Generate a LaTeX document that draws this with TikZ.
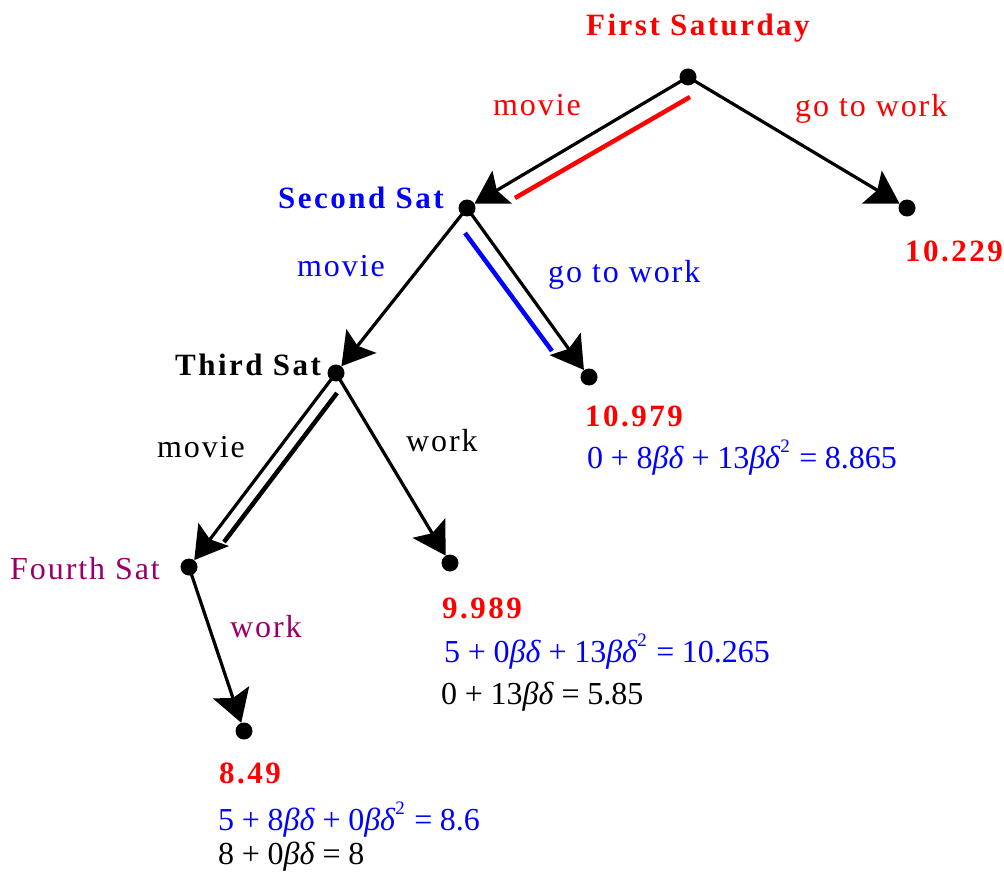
\documentclass[tikz,border=0pt]{standalone}
\usepackage{fontspec}
\setmainfont{Liberation Serif}
\newfontfamily\lblfont[LetterSpace=6]{Liberation Serif}
\newfontfamily\bldfont[LetterSpace=8]{Liberation Serif}
\usetikzlibrary{arrows.meta}
\definecolor{pur}{RGB}{153,0,102}
\newcommand{\opx}[1]{\hspace{0.24em}#1\hspace{0.24em}}
\newcommand{\bdx}{\textit{βδ}}
\newcommand{\sqx}{\raisebox{0.5em}{\fontsize{19pt}{19pt}\selectfont 2}\hspace{0.05em}}
\tikzset{
  dot/.style={circle,fill=black,minimum size=17pt,inner sep=0pt},
  arr/.style={line width=3.2pt,-{Stealth[length=32pt,width=38pt,inset=6pt]}},
  lbl/.style={font=\fontsize{32pt}{36pt}\lblfont, anchor=base west, inner sep=0pt},
  bl/.style={font=\fontsize{31pt}{36pt}\bldfont\bfseries, anchor=base west, inner sep=0pt},
  eqn/.style={font=\fontsize{32pt}{36pt}\selectfont, anchor=base west, inner sep=0pt},
  hl/.style={line width=4.5pt}
}
\begin{document}
\begin{tikzpicture}[x=1pt,y=-1pt]
\useasboundingbox (0,0) rectangle (1004,872);
% nodes
\node[dot] (n1) at (688,77) {};
\node[dot] (n2) at (467,208) {};
\node[dot] (n3) at (907,208) {};
\node[dot] (n4) at (336,373) {};
\node[dot] (n5) at (589,377) {};
\node[dot] (n6) at (189,567) {};
\node[dot] (n7) at (450,563) {};
\node[dot] (n8) at (244,731) {};
% arrows
\draw[arr] (n1.center) -- (n2);
\draw[arr] (n1.center) -- (n3);
\draw[arr] (n2.center) -- (n4);
\draw[arr] (n2.center) -- (n5);
\draw[arr] (n4.center) -- (n6);
\draw[arr] (n4.center) -- (n7);
\draw[arr] (n6.center) -- (n8);
% highlight lines
\coordinate (r1) at (690,97);
\coordinate (r2) at (515,198);
\coordinate (b1) at (465,233);
\coordinate (b2) at (552,351);
\coordinate (k1) at (337,393);
\coordinate (k2) at (224,542);
\draw[hl,red] (r1) -- (r2);
\draw[hl,blue] (b1) -- (b2);
\draw[hl,black] (k1) -- (k2);
% labels
\node[bl,red] (t1) at (586,36) {First Saturday};
\node[lbl,red] (m1) at (493,116) {movie};
\node[lbl,red] (w1) at (795,117) {go to work};
\node[bl,red] (v3) at (905,261) {10.229};
\node[bl,blue] (t2) at (278,208) {Second Sat};
\node[lbl,blue] (m2) at (297,276) {movie};
\node[lbl,blue] (w2) at (548,282) {go to work};
\node[bl,black] (t3) at (175,375) {Third Sat};
\node[lbl,black] (m3) at (157,457) {movie};
\node[lbl,black] (w3) at (406,451) {work};
\node[bl,red] (v5) at (585,426) {10.979};
\node[eqn,blue] (e5) at (587,468) {0\opx{+}8\bdx\opx{+}13\bdx\sqx\opx{=}8.865};
\node[lbl,pur] (t4) at (10,579) {Fourth Sat};
\node[lbl,pur] (w4) at (230,637) {work};
\node[bl,red] (v7) at (442,618) {9.989};
\node[eqn,blue] (e7a) at (444,662) {5\opx{+}0\bdx\opx{+}13\bdx\sqx\opx{=}10.265};
\node[eqn,black] (e7b) at (441,704) {0\opx{+}13\bdx\opx{=}5.85};
\node[bl,red] (v8) at (219,783) {8.49};
\node[eqn,blue] (e8a) at (218,830) {5\opx{+}8\bdx\opx{+}0\bdx\sqx\opx{=}8.6};
\node[eqn,black] (e8b) at (218,864) {8\opx{+}0\bdx\opx{=}8};
\end{tikzpicture}
\end{document}
